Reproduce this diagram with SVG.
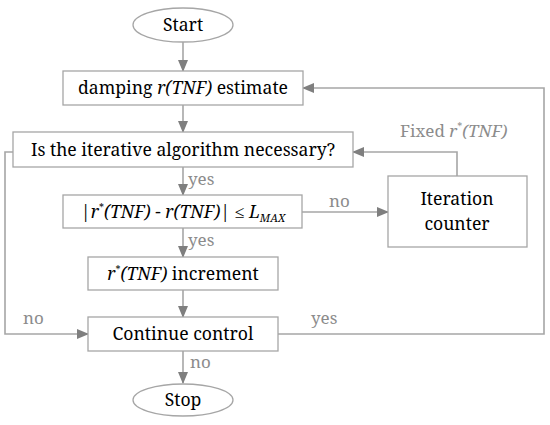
<svg xmlns="http://www.w3.org/2000/svg" width="550" height="425" viewBox="0 0 550 425">
<defs>
<marker id="ah" markerWidth="12" markerHeight="10" refX="11" refY="5" orient="auto" markerUnits="userSpaceOnUse">
<path d="M0,0 L12,5 L0,10 z" fill="#7f7f7f"/>
</marker>
<style>
.n{fill:#fff;stroke:#a6a6a6;stroke-width:1.3}
.t{font-size:17.6px;fill:#000;text-anchor:middle}
.l{font-size:17px;fill:#8c8c8c}
.c{fill:none;stroke:#a6a6a6;stroke-width:1.6}
.a{marker-end:url(#ah)}
</style>
</defs>
<rect width="550" height="425" fill="#fff"/>
<g font-family="'Noto Serif', 'Liberation Serif', serif">
<g id="connectors">
<path class="c a" d="M183,42 V71"/>
<path class="c a" d="M183,105 V132"/>
<path class="c a" d="M183,167 V195"/>
<path class="c a" d="M183,228 V257"/>
<path class="c a" d="M183,290 V317"/>
<path class="c a" d="M183,351 V383"/>
<path class="c a" d="M302,212 H388"/>
<path class="c a" d="M457,176 V152 H353"/>
<path class="c a" d="M13,152 H5 V334 H88"/>
<path class="c a" d="M278,334 H544 V88 H303"/>
<text class="l" x="188" y="185">yes</text>
<text class="l" x="188" y="246">yes</text>
<text class="l" x="190" y="368">no</text>
<text class="l" x="329" y="207">no</text>
<text class="l" x="23" y="324">no</text>
<text class="l" x="311" y="324">yes</text>
<text class="l" x="400" y="137">Fixed <tspan font-style="italic">r</tspan><tspan font-size="10" dy="-7">*</tspan><tspan font-style="italic" dy="7">(TNF)</tspan></text>
</g>
<g id="start">
<ellipse class="n" cx="183" cy="25" rx="50" ry="17"/>
<text class="t" x="183" y="31">Start</text>
</g>
<g id="damping">
<rect class="n" x="63" y="71" width="240" height="34"/>
<text class="t" x="183" y="94">damping <tspan font-style="italic">r(TNF)</tspan> estimate</text>
</g>
<g id="necessary">
<rect class="n" x="13" y="132" width="340" height="35"/>
<text class="t" x="183" y="156">Is the iterative algorithm necessary?</text>
</g>
<g id="compare">
<rect class="n" x="63" y="195" width="239" height="33"/>
<text class="t" x="183" y="218">|<tspan font-style="italic">r</tspan><tspan font-size="10" dy="-7">*</tspan><tspan font-style="italic" dy="7">(TNF)</tspan> - <tspan font-style="italic">r(TNF)</tspan>| ≤ <tspan font-style="italic">L</tspan><tspan font-style="italic" font-size="11" dy="4">MAX</tspan></text>
</g>
<g id="increment">
<rect class="n" x="88" y="257" width="190" height="33"/>
<text class="t" x="183" y="280"><tspan font-style="italic">r</tspan><tspan font-size="10" dy="-7">*</tspan><tspan font-style="italic" dy="7">(TNF)</tspan> increment</text>
</g>
<g id="iteration">
<rect class="n" x="388" y="176" width="139" height="71"/>
<text class="t" x="457" y="205">Iteration</text>
<text class="t" x="457" y="230">counter</text>
</g>
<g id="continue">
<rect class="n" x="88" y="317" width="190" height="34"/>
<text class="t" x="183" y="340">Continue control</text>
</g>
<g id="stop">
<ellipse class="n" cx="183" cy="400" rx="50" ry="16"/>
<text class="t" x="183" y="406">Stop</text>
</g>
</g>
</svg>
